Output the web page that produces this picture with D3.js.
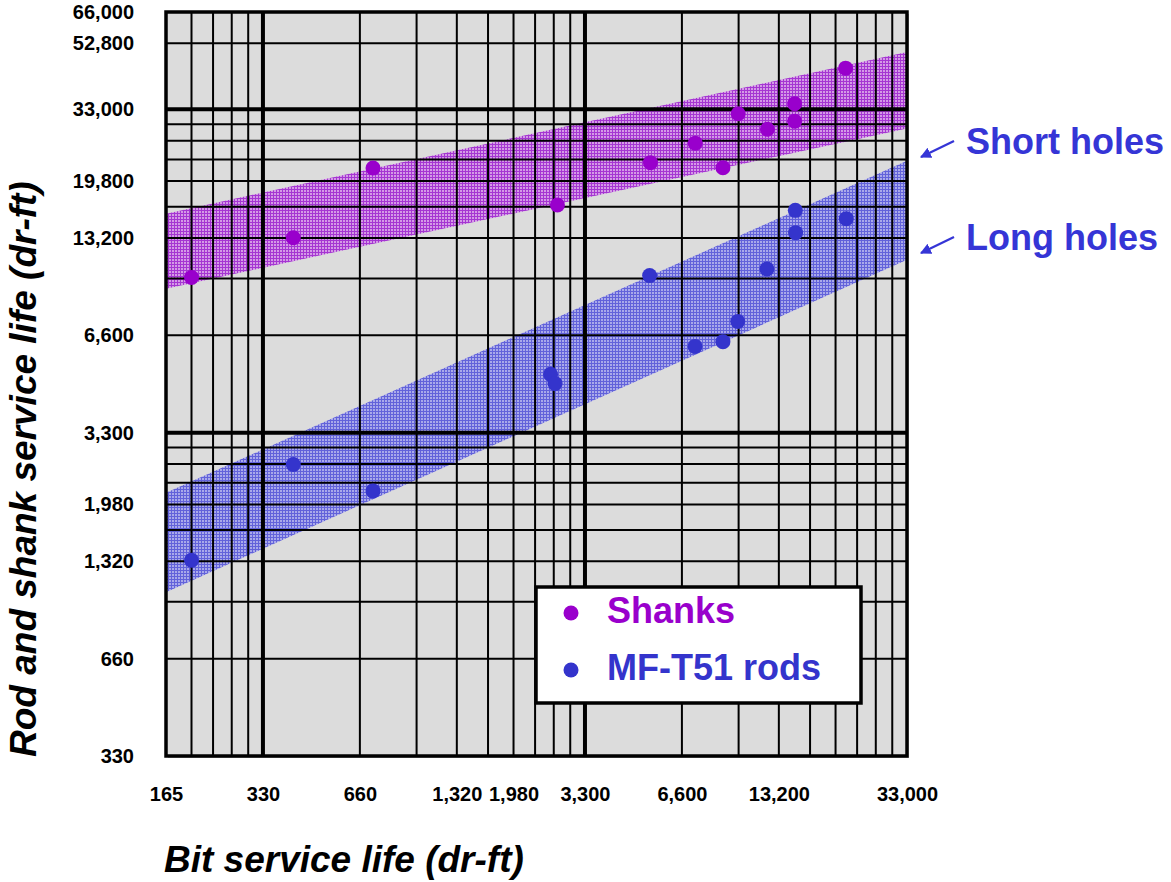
<!DOCTYPE html>
<html>
<head>
<meta charset="utf-8">
<script src="https://cdn.jsdelivr.net/npm/d3@7"></script>
<style>
  html, body { margin: 0; padding: 0; background: #fff; }
  svg { display: block; }
  text { font-family: "Liberation Sans", Arial, sans-serif; font-weight: bold; }
</style>
</head>
<body>
<svg id="chart" width="1171" height="882"></svg>
<script>
// Bit life (x) vs rod/shank life (y), both in drill-feet
const shankBit  = [198, 410, 725, 2710, 5270, 7260, 8850, 9870, 12160, 14780, 14780, 21270];
const shankLife = [9960, 13230, 21720, 16690, 22570, 25940, 21770, 31990, 28650, 34330, 30340, 44250];

const rodBit  = [198, 410, 725, 2580, 2665, 5240, 7250, 8850, 9840, 12120, 14850, 14880, 21380];
const rodLife = [1330, 2630, 2180, 5000, 4680, 10100, 6100, 6310, 7280, 10580, 16070, 13710, 15150];

// Shaded bands: upper / lower edge at the two ends of the bit-life range
const bandBit    = [165, 33000];
const shortUpper = [15700, 49600];
const shortLower = [9200, 28800];
const longUpper  = [2150, 22900];
const longLower  = [1060, 11300];

// Grid lines (drill-feet) and tick labels
const xGrid = [198, 231, 264, 297, 330, 660, 990, 1320, 1650, 1980, 2310, 2640, 2970, 3300,
               6600, 9900, 13200, 16500, 19800, 23100, 26400, 29700];
const yGrid = [660, 990, 1320, 1650, 1980, 2310, 2640, 2970, 3300,
               6600, 9900, 13200, 16500, 19800, 23100, 26400, 29700, 33000, 52800];
const xMajor = [330, 3300];
const yMajor = [3300, 33000];
const xTicks = [165, 330, 660, 1320, 1980, 3300, 6600, 13200, 33000];
const yTicks = [330, 660, 1320, 1980, 3300, 6600, 13200, 19800, 33000, 52800, 66000];

const seriesNames = ["Shanks", "MF-T51 rods"];
const notes = ["Short holes", "Long holes"];

const PURPLE = "#9900cc", BLUE = "#3434cc", NOTE = "#3535d6";

const svg = d3.select("#chart");
const L = 166, R = 907, T = 12, B = 756;
const x = d3.scaleLog().domain([165, 33000]).range([L, R]);
const y = d3.scaleLog().domain([330, 66000]).range([B, T]);

// textured fills for the bands
const defs = svg.append("defs");
function hatch(id, base, ink) {
  const p = defs.append("pattern").attr("id", id).attr("patternUnits", "userSpaceOnUse")
    .attr("width", 3).attr("height", 3);
  p.append("rect").attr("width", 3).attr("height", 3).attr("fill", base);
  p.append("rect").attr("width", 3).attr("height", 1).attr("fill", ink);
  p.append("rect").attr("width", 1).attr("height", 3).attr("fill", ink);
}
hatch("hatchShort", "#d49ae6", "#a536d2");
hatch("hatchLong", "#a9a9ea", "#6262da");

const marker = defs.append("marker").attr("id", "arrowHead")
  .attr("viewBox", "0 0 10 10").attr("refX", 9).attr("refY", 5)
  .attr("markerWidth", 5).attr("markerHeight", 5).attr("orient", "auto")
  .attr("markerUnits", "strokeWidth");
marker.append("path").attr("d", "M0,0 L10,5 L0,10 Z").attr("fill", NOTE);

// drop shadow + plot background
svg.append("rect").attr("x", L + 2).attr("y", T + 2).attr("width", R - L).attr("height", B - T)
  .attr("fill", "#b8b8b8");
svg.append("rect").attr("x", L).attr("y", T).attr("width", R - L).attr("height", B - T)
  .attr("fill", "#dcdcdc");

// bands
const band = (up, lo) => [[bandBit[0], up[0]], [bandBit[1], up[1]], [bandBit[1], lo[1]], [bandBit[0], lo[0]]];
const areaPath = pts => "M" + pts.map(p => x(p[0]) + "," + y(p[1])).join("L") + "Z";
svg.append("path").attr("d", areaPath(band(shortUpper, shortLower))).attr("fill", "url(#hatchShort)");
svg.append("path").attr("d", areaPath(band(longUpper, longLower))).attr("fill", "url(#hatchLong)");

// grid
const grid = svg.append("g").attr("stroke", "#000");
grid.selectAll(".gx").data(xGrid).join("line")
  .attr("x1", d => x(d)).attr("x2", d => x(d)).attr("y1", T).attr("y2", B)
  .attr("stroke-width", d => xMajor.includes(d) ? 4 : 2);
grid.selectAll(".gy").data(yGrid).join("line")
  .attr("y1", d => y(d)).attr("y2", d => y(d)).attr("x1", L).attr("x2", R)
  .attr("stroke-width", d => yMajor.includes(d) ? 4 : 2);
svg.append("rect").attr("x", L).attr("y", T).attr("width", R - L).attr("height", B - T)
  .attr("fill", "none").attr("stroke", "#000").attr("stroke-width", 3.5);

// points
const shanks = shankBit.map((b, i) => [b, shankLife[i]]);
const rods = rodBit.map((b, i) => [b, rodLife[i]]);
svg.append("g").selectAll("circle").data(shanks).join("circle")
  .attr("cx", d => x(d[0])).attr("cy", d => y(d[1])).attr("r", 7.5).attr("fill", PURPLE);
svg.append("g").selectAll("circle").data(rods).join("circle")
  .attr("cx", d => x(d[0])).attr("cy", d => y(d[1])).attr("r", 7.5).attr("fill", BLUE);

// axes
const fmt = d3.format(",");
const xAxis = svg.append("g").attr("transform", `translate(0,${B})`)
  .call(d3.axisBottom(x).tickValues(xTicks).tickFormat(fmt).tickSize(0).tickPadding(31));
const yAxis = svg.append("g").attr("transform", `translate(${L},0)`)
  .call(d3.axisLeft(y).tickValues(yTicks).tickFormat(fmt).tickSize(0).tickPadding(32));
[xAxis, yAxis].forEach(a => {
  a.select(".domain").remove();
  a.selectAll("text").attr("font-size", 20).attr("fill", "#000")
    .attr("font-family", "'Liberation Sans', Arial, sans-serif").attr("font-weight", "bold");
});

// axis titles
svg.append("text").attr("x", 164).attr("y", 872).attr("font-size", 37)
  .attr("font-style", "italic").attr("fill", "#000").text("Bit service life (dr-ft)");
svg.append("text").attr("transform", "translate(36,757) rotate(-90)").attr("font-size", 37)
  .attr("font-style", "italic").attr("fill", "#000").text("Rod and shank service life (dr-ft)");

// legend
const lg = svg.append("g");
lg.append("rect").attr("x", 536).attr("y", 587).attr("width", 325).attr("height", 116)
  .attr("fill", "#fff").attr("stroke", "#000").attr("stroke-width", 3.5);
[PURPLE, BLUE].forEach((c, i) => {
  const cy = 613 + i * 57;
  lg.append("circle").attr("cx", 571).attr("cy", cy).attr("r", 7.5).attr("fill", c);
  lg.append("text").attr("x", 607).attr("y", cy + 10).attr("font-size", 36).attr("fill", c)
    .text(seriesNames[i]);
});

// annotations
notes.forEach((t, i) => {
  const dy = i * 96;
  svg.append("line").attr("x1", 954).attr("y1", 141 + dy).attr("x2", 921).attr("y2", 157 + dy)
    .attr("stroke", NOTE).attr("stroke-width", 2.2).attr("marker-end", "url(#arrowHead)");
  svg.append("text").attr("x", 966).attr("y", 154 + dy).attr("font-size", 36).attr("fill", NOTE).text(t);
});
</script>
</body>
</html>
